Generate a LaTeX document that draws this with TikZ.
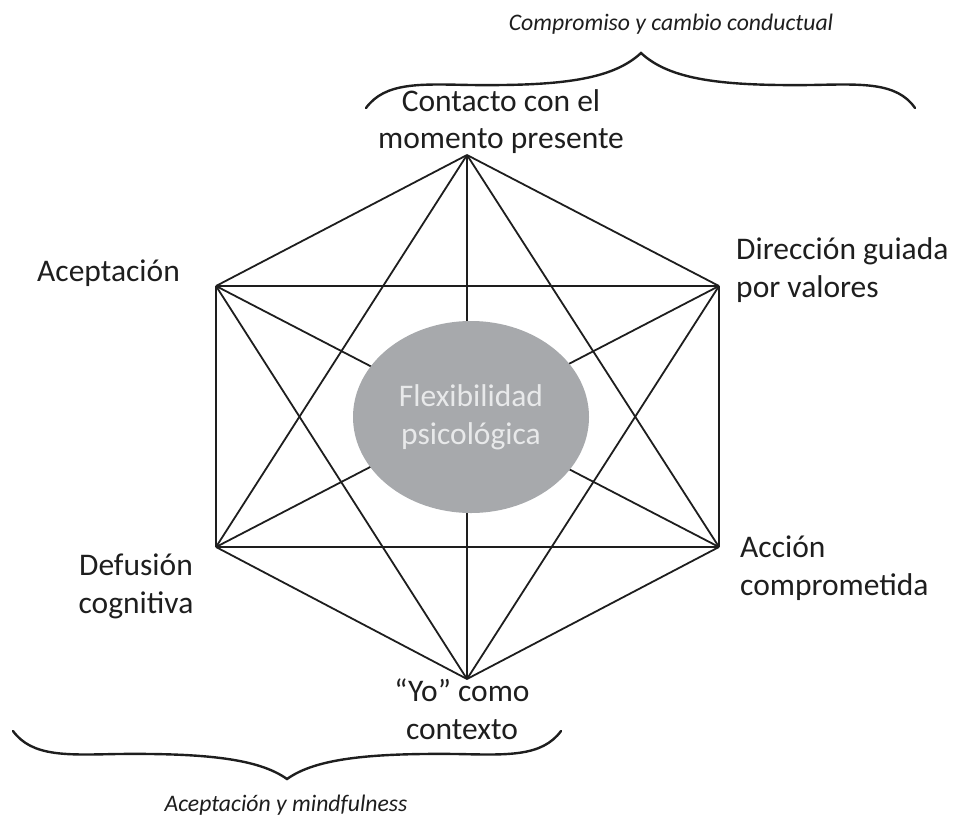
\documentclass[tikz,border=0pt]{standalone}
\usepackage{fontspec}
\setmainfont{Carlito}
\usetikzlibrary{shapes.geometric}
\definecolor{ellgray}{HTML}{A7A9AC}
\definecolor{elltext}{HTML}{E8E9EA}
\definecolor{ink}{HTML}{1E1E1E}
\begin{document}
\begin{tikzpicture}[x=1pt,y=-1pt,
  edge/.style={line width=1.8pt, draw=ink},
  bracestroke/.style={line width=2.4pt, draw=ink, line cap=round},
  lbl/.style={inner sep=0pt, font=\fontsize{31.5}{37.5}\selectfont, text=ink},
  grp/.style={inner sep=0pt, font=\fontsize{23.7}{28}\selectfont\itshape, text=ink}]
\useasboundingbox (0,0) rectangle (957,816);
% vertices
\coordinate (T)  at (467,155);
\coordinate (UL) at (216,286);
\coordinate (UR) at (719,286);
\coordinate (LL) at (216,547);
\coordinate (LR) at (719,547);
\coordinate (B)  at (467,679);
% all connections
\foreach \a/\b in {T/UL,T/UR,T/LL,T/LR,T/B,UL/UR,UL/LL,UL/LR,UL/B,UR/LL,UR/LR,UR/B,LL/LR,LL/B,LR/B}
  \draw[edge] (\a) -- (\b);
% centre
\node[ellipse, fill=ellgray, minimum width=236pt, minimum height=192pt, inner sep=0pt,
      align=center, text=elltext, font=\fontsize{31.5}{38}\selectfont] (core) at (471,417)
      {Flexibilidad\\psicológica};
% labels
\node[lbl, align=center] (contacto) at (501,121.5) {Contacto con el\\momento presente};
\node[lbl] (aceptacion) at (108.5,273) {Aceptación};
\node[lbl, align=left, anchor=west] (direccion) at (736,270) {Dirección guiada\\por valores};
\node[lbl, align=center] (defusion) at (136,586.5) {Defusión\\cognitiva};
\node[lbl, align=left, anchor=west] (accion) at (740,568) {Acción\\comprometida};
\node[lbl, align=center] (yo) at (462,709) {“Yo” como\\contexto};
% group labels
\node[grp] (compromiso) at (671,24) {Compromiso y cambio conductual};
\node[grp] (mindful) at (286,805) {Aceptación y mindfulness};
% braces
\draw[bracestroke] (366,108) .. controls (385,82) and (420,84) .. (470,85)
  .. controls (560,86) and (612,80) .. (641,53)
  .. controls (670,80) and (722,86) .. (812,85)
  .. controls (862,84) and (897,82) .. (915,108);
\draw[bracestroke] (13,731) .. controls (32,757) and (67,755) .. (117,754)
  .. controls (207,753) and (259,759) .. (287,779)
  .. controls (315,759) and (367,753) .. (457,754)
  .. controls (507,755) and (542,757) .. (561,731);
\end{tikzpicture}
\end{document}
